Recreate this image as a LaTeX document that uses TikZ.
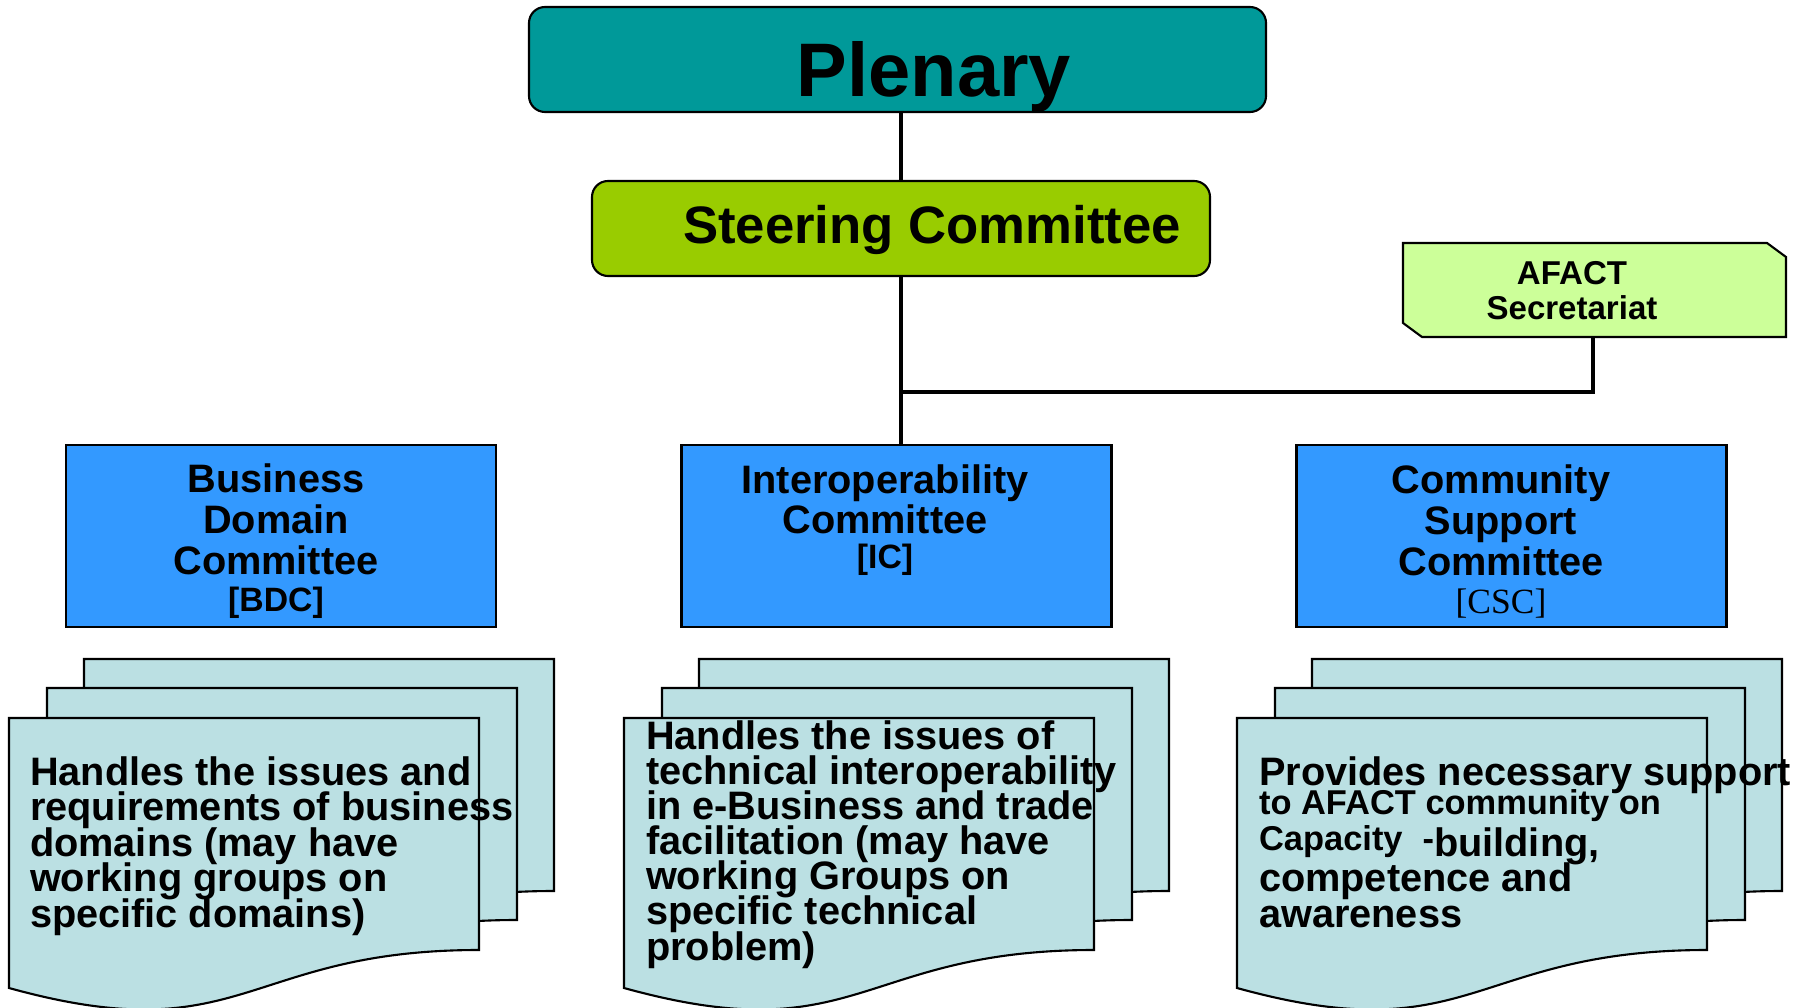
\documentclass[tikz,border=0pt]{standalone}
\usepackage{fontspec}
\setmainfont{Liberation Sans}
\newfontfamily\timesfont{Liberation Serif}
\usepackage{tikz}

\definecolor{plenteal}{RGB}{0,153,153}
\definecolor{steergreen}{RGB}{153,204,0}
\definecolor{secgreen}{RGB}{204,255,153}
\definecolor{combl}{RGB}{51,153,255}
\definecolor{paperblue}{RGB}{187,224,227}
\lineskiplimit=-100pt

\begin{document}
\begin{tikzpicture}[line width = 0.6pt,
  topbox/.style = {draw = black, rounded corners = 0.16cm, inner sep = 0pt},
  combox/.style = {draw = black, fill = combl, minimum width = 4.3cm, minimum height = 1.82cm, inner sep = 0pt},
  sheet/.style = {draw = black, fill = paperblue},
  link/.style = {line width = 1.3pt},
  boxtext/.style = {font = \fontsize{11.3}{11.66}\selectfont\bfseries, align = center, inner sep = 0pt, anchor = base},
  papertext/.style = {font = \fontsize{11.3}{10.1}\selectfont\bfseries, align = left, inner sep = 0pt, anchor = base west}]

\useasboundingbox (0, 0) rectangle (18.10, 10.07);
\clip (0, 0) rectangle (18.10, 10.07);

\node[topbox, fill = plenteal, minimum width = 7.37cm, minimum height = 1.05cm] (plenary) at (8.975, 9.475) {};
\node[anchor = base, inner sep = 0pt, font = \fontsize{21.6}{26}\selectfont\bfseries] (plenary text) at (9.34, 9.10) {Plenary};

\node[topbox, fill = steergreen, minimum width = 6.18cm, minimum height = 0.95cm] (steering) at (9.01, 7.785) {};
\node[anchor = base, inner sep = 0pt, font = \fontsize{15}{18}\selectfont\bfseries] (steering text) at (9.32, 7.63) {Steering Committee};

\filldraw[fill = secgreen] (14.03, 7.64) -- (17.67, 7.64) -- (17.86, 7.50) -- (17.86, 6.70) -- (14.22, 6.70) -- (14.03, 6.84) -- cycle;
\node[boxtext, font = \fontsize{9.4}{10}\selectfont\bfseries] (afact) at (15.72, 6.87) {AFACT\\Secretariat};
\coordinate (afact bottom) at (15.93, 6.70);

\node[combox] (bdc) at (2.81, 4.71) {};
\node[combox] (ic) at (8.965, 4.71) {};
\node[combox] (csc) at (15.115, 4.71) {};
\node[boxtext] (bdc text) at (2.76, 3.95) {Business\\Domain\\Committee\\[-1.1pt]{\fontsize{9.6}{11}\selectfont [BDC]}};
\node[boxtext] (ic text) at (8.85, 4.38) {Interoperability\\Committee\\[-1.7pt]{\fontsize{9.6}{11}\selectfont [IC]}};
\node[boxtext] (csc text) at (15.01, 3.94) {Community\\Support\\Committee\\[-1.1pt]{\timesfont\mdseries\fontsize{10.1}{12}\selectfont [CSC]}};

\draw[link] (plenary.south -| steering) -- (steering.north);
\draw[link] (steering.south) -- (steering.south |- ic.north);
\coordinate (junction) at (9.01, 6.15);
\draw[link] (junction) -| (afact bottom);

\filldraw[sheet, shift = {(0.84, 3.48)}] (0, 0) -- (4.7, 0) -- (4.7, -2.32) .. controls (2.35, -2.32) and (2.35, -3.35) .. (0, -2.7) -- cycle;
\filldraw[sheet, shift = {(0.47, 3.19)}] (0, 0) -- (4.7, 0) -- (4.7, -2.32) .. controls (2.35, -2.32) and (2.35, -3.35) .. (0, -2.7) -- cycle;
\filldraw[sheet, shift = {(0.09, 2.89)}] (0, 0) -- (4.7, 0) -- (4.7, -2.32) .. controls (2.35, -2.32) and (2.35, -3.35) .. (0, -2.7) -- cycle;

\filldraw[sheet, shift = {(6.99, 3.48)}] (0, 0) -- (4.7, 0) -- (4.7, -2.32) .. controls (2.35, -2.32) and (2.35, -3.35) .. (0, -2.7) -- cycle;
\filldraw[sheet, shift = {(6.62, 3.19)}] (0, 0) -- (4.7, 0) -- (4.7, -2.32) .. controls (2.35, -2.32) and (2.35, -3.35) .. (0, -2.7) -- cycle;
\filldraw[sheet, shift = {(6.24, 2.89)}] (0, 0) -- (4.7, 0) -- (4.7, -2.32) .. controls (2.35, -2.32) and (2.35, -3.35) .. (0, -2.7) -- cycle;

\filldraw[sheet, shift = {(13.12, 3.48)}] (0, 0) -- (4.7, 0) -- (4.7, -2.32) .. controls (2.35, -2.32) and (2.35, -3.35) .. (0, -2.7) -- cycle;
\filldraw[sheet, shift = {(12.75, 3.19)}] (0, 0) -- (4.7, 0) -- (4.7, -2.32) .. controls (2.35, -2.32) and (2.35, -3.35) .. (0, -2.7) -- cycle;
\filldraw[sheet, shift = {(12.37, 2.89)}] (0, 0) -- (4.7, 0) -- (4.7, -2.32) .. controls (2.35, -2.32) and (2.35, -3.35) .. (0, -2.7) -- cycle;

\node[papertext] (bdc note) at (0.29, 0.80) {Handles the issues and\\requirements of business\\domains (may have\\working groups on\\specific domains)};
\node[papertext, font = \fontsize{11.3}{10}\selectfont\bfseries] (ic note) at (6.45, 0.47) {Handles the issues of\\technical interoperability\\in e-Business and trade\\facilitation (may have\\working Groups on\\specific technical\\problem)};
\node[papertext] (csc note) at (12.58, 0.80) {Provides necessary support\\[-1.6pt]{\fontsize{9.8}{10}\selectfont to AFACT community on}\\[1.6pt]\raisebox{0.06cm}{\fontsize{9.8}{10}\selectfont Capacity\hspace{0.2cm}-}building,\\competence and\\awareness};

\end{tikzpicture}
\end{document}
